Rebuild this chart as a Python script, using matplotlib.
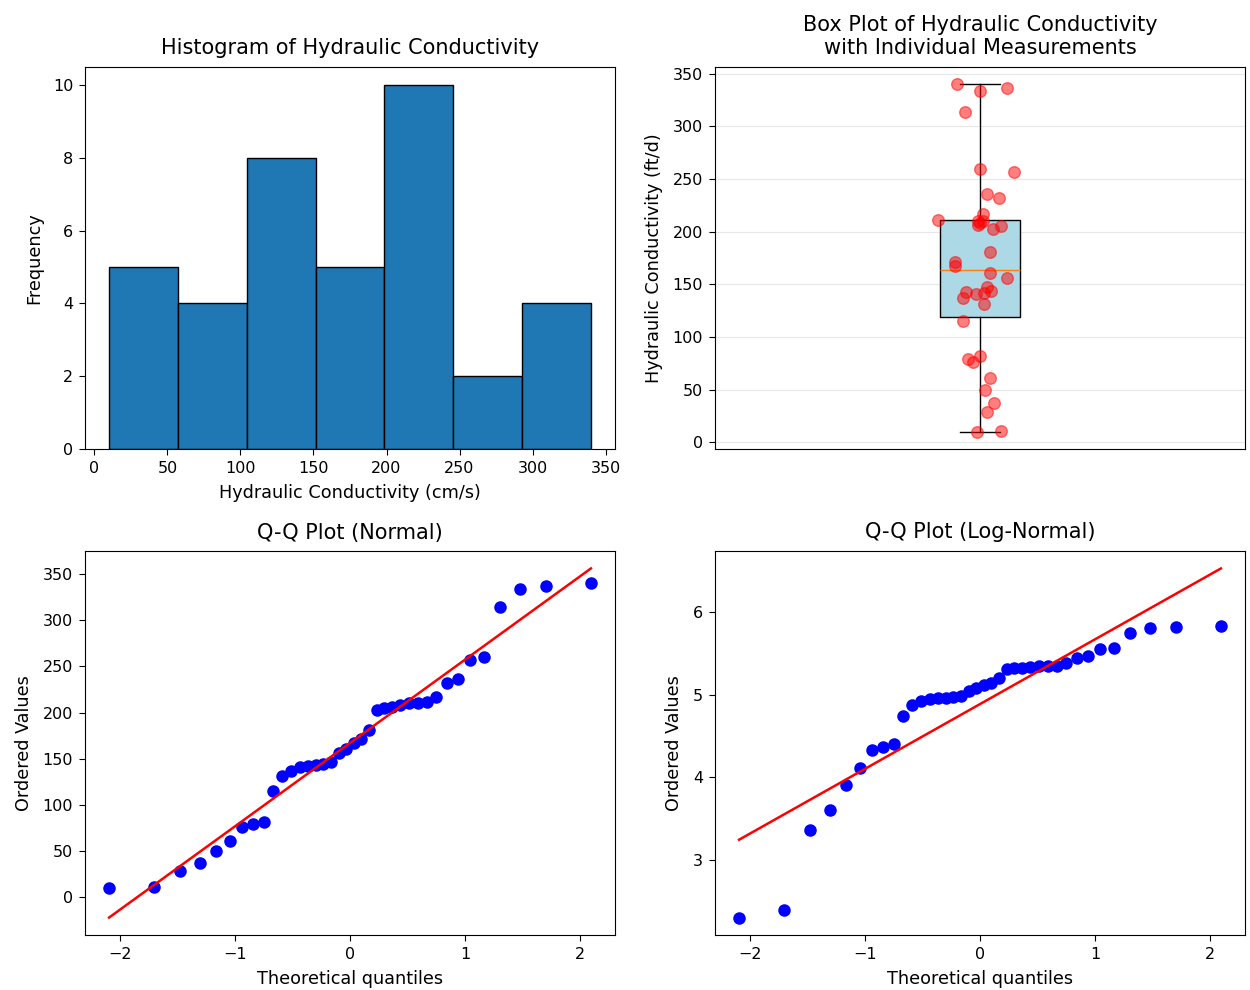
import numpy as np
import matplotlib
matplotlib.use("Agg")
import matplotlib.pyplot as plt
from statistics import NormalDist

k_values = [10, 11, 29, 37, 50, 61, 76, 79, 82, 115, 131, 137, 141, 142, 143,
            144, 147, 156, 161, 167, 171, 181, 203, 205, 206, 208, 210, 210,
            211, 217, 232, 236, 257, 260, 314, 334, 337, 340]
# horizontal jitter of each point in the box plot
jitter = [-0.005, 0.039, 0.014, 0.026, 0.009, 0.019, -0.014, -0.022, 0.0,
          -0.033, 0.008, -0.033, -0.008, 0.007, -0.026, 0.02, 0.013, 0.05,
          0.018, -0.047, -0.047, 0.018, 0.024, 0.039, -0.003, 0.0, 0.005,
          -0.003, -0.079, 0.005, 0.036, 0.014, 0.065, 0.0, -0.028, 0.0, 0.05,
          -0.043]

k = np.array(k_values, dtype=float)
n = len(k)


def probplot(y):
    # Filliben order statistic medians, same as scipy.stats.probplot
    y = np.sort(y)
    m = (np.arange(1, n + 1) - 0.3175) / (n + 0.365)
    m[-1] = 0.5 ** (1.0 / n)
    m[0] = 1 - m[-1]
    q = np.array([NormalDist().inv_cdf(p) for p in m])
    slope, inter = np.polyfit(q, y, 1)
    return q, y, slope, inter


TITLE = 15
LABEL = 12.7
TICK = 11.5

fig = plt.figure(figsize=(12.5, 9.9), dpi=100)
W, H = 1250, 990


def box(x0, x1, y0, y1):
    return [x0 / W, 1 - y1 / H, (x1 - x0) / W, (y1 - y0) / H]


ax1 = fig.add_axes(box(85, 615, 67, 449))
ax2 = fig.add_axes(box(715, 1245, 67, 449))
ax3 = fig.add_axes(box(85, 615, 551, 935))
ax4 = fig.add_axes(box(715, 1245, 551, 935))

ax1.hist(k, bins=7, edgecolor="black")
ax1.set_title("Histogram of Hydraulic Conductivity", fontsize=TITLE, pad=9)
ax1.set_xlabel("Hydraulic Conductivity (cm/s)", fontsize=LABEL, labelpad=6)
ax1.set_ylabel("Frequency", fontsize=LABEL, labelpad=7)

ax2.boxplot(k, patch_artist=True, boxprops=dict(facecolor="lightblue"))
ax2.scatter(1 + np.array(jitter), k, color="red", alpha=0.5, s=70, zorder=3)
ax2.set_title("Box Plot of Hydraulic Conductivity\nwith Individual Measurements",
              fontsize=TITLE, pad=9)
ax2.set_ylabel("Hydraulic Conductivity (ft/d)", fontsize=LABEL, labelpad=7)
ax2.set_xticks([])
ax2.grid(True, axis="y", alpha=0.3)

for ax, y, title in [(ax3, k, "Q-Q Plot (Normal)"),
                     (ax4, np.log(k), "Q-Q Plot (Log-Normal)")]:
    q, ys, slope, inter = probplot(y)
    ax.plot(q, ys, "bo", markersize=8)
    ax.plot(q, slope * q + inter, "r-", linewidth=1.8)
    ax.set_title(title, fontsize=TITLE, pad=9)
    ax.set_xlabel("Theoretical quantiles", fontsize=LABEL, labelpad=6)
    ax.set_ylabel("Ordered Values", fontsize=LABEL, labelpad=7)

for ax in (ax1, ax2, ax3, ax4):
    ax.tick_params(labelsize=TICK, length=4.5, pad=4)

fig.savefig("out.png", dpi=100)
